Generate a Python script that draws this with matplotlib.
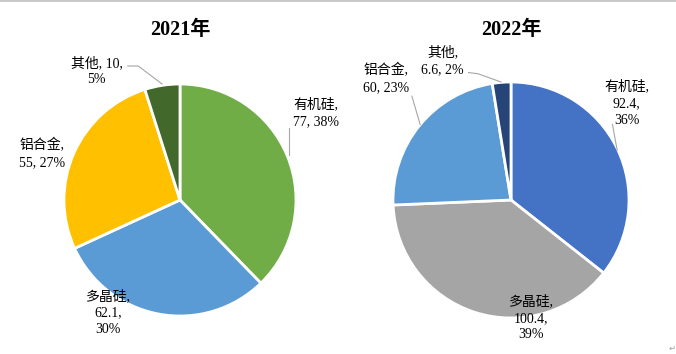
import matplotlib.pyplot as plt
from matplotlib.lines import Line2D

# data
names = ["有机硅", "多晶硅", "铝合金", "其他"]
years = ["2021年", "2022年"]
values_2021 = [77, 62.1, 55, 10]
values_2022 = [92.4, 100.4, 60, 6.6]
value_text_2021 = ["77", "62.1", "55", "10"]
value_text_2022 = ["92.4", "100.4", "60", "6.6"]
pct_2021 = ["38%", "30%", "27%", "5%"]
pct_2022 = ["36%", "39%", "23%", "2%"]
colors_2021 = ["#70AD47", "#5B9BD5", "#FFC000", "#43682B"]
colors_2022 = ["#4472C4", "#A5A5A5", "#5B9BD5", "#264478"]

W, H = 676, 354
FONT = ["Liberation Serif", "Noto Sans CJK SC", "DejaVu Sans"]

# label layout, in pie radii from the centre: (x, y, line template)
layout_2021 = [
    (1.17, 0.75, "{n},\n{v}, {p}"),
    (-0.62, -0.97, "{n},\n{v},\n{p}"),
    (-1.19, 0.40, "{n},\n{v}, {p}"),
    (-0.72, 1.11, "{n}, {v},\n{p}"),
]
layout_2022 = [
    (0.98, 0.82, "{n},\n{v},\n{p}"),
    (0.17, -1.00, "{n},\n{v},\n{p}"),
    (-1.06, 1.03, "{n},\n{v}, {p}"),
    (-0.58, 1.18, "{n},\n{v}, {p}"),
]
leaders_2021 = [
    [(0.94, 0.62), (0.94, 0.39)],
    None,
    None,
    [(-0.45, 1.155), (-0.36, 1.155), (-0.155, 1.0)],
]
leaders_2022 = [
    [(0.86, 0.64), (0.90, 0.42)],
    None,
    [(-0.84, 0.88), (-0.77, 0.64)],
    [(-0.36, 1.08), (-0.28, 1.07), (-0.085, 1.0)],
]


def draw_pie(fig, cx, cy, r, title, values, vtexts, pcts, colors, layout, leaders):
    ax = fig.add_axes([(cx - r) / W, (H - cy - r) / H, 2 * r / W, 2 * r / H])
    ax.pie(values, colors=colors, startangle=90, counterclock=False, radius=1,
           wedgeprops=dict(edgecolor="white", linewidth=2))
    ax.set_xlim(-1, 1)
    ax.set_ylim(-1, 1)
    ax.axis("off")
    for name, vt, pct, (lx, ly, tpl), lead in zip(names, vtexts, pcts, layout, leaders):
        ax.text(lx, ly, tpl.format(n=name, v=vt, p=pct), ha="center", va="center",
                fontsize=10, family=FONT, linespacing=1.35, clip_on=False)
        if lead:
            xs, ys = zip(*lead)
            ax.plot(xs, ys, color="#A6A6A6", lw=0.8, clip_on=False)
    fig.text(cx / W, 1 - 30 / H, title, ha="center", va="center",
             fontsize=14.5, fontweight="bold", family=FONT)


fig = plt.figure(figsize=(W / 100, H / 100), dpi=100)
draw_pie(fig, 180, 200, 116, years[0], values_2021, value_text_2021, pct_2021,
         colors_2021, layout_2021, leaders_2021)
draw_pie(fig, 511, 200, 118, years[1], values_2022, value_text_2022, pct_2022,
         colors_2022, layout_2022, leaders_2022)

fig.add_artist(Line2D([0, 1], [1 - 0.8 / H, 1 - 0.8 / H], color="#BFBFBF", lw=1.2))
fig.text(672 / W, 1 - 348 / H, "↵", ha="center", va="center", fontsize=6,
         color="#A0A0A0", family="DejaVu Sans")

fig.savefig("out.png", dpi=100)
